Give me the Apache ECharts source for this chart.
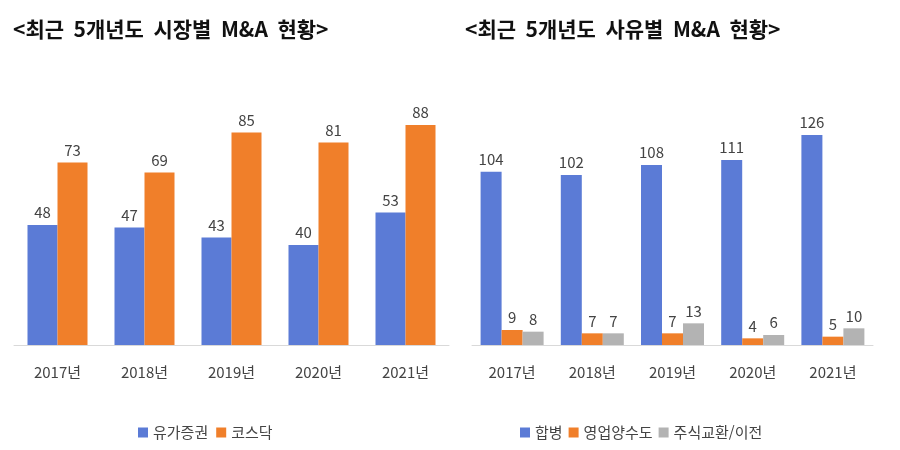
<!DOCTYPE html>
<html lang="ko">
<head>
<meta charset="UTF-8">
<script src="https://cdn.jsdelivr.net/npm/echarts@6/dist/echarts.min.js"></script>
</head>
<body style="margin:0;background:#fff">
<div id="dv" style="width:900px;height:450px;"></div>
<script>
var years = ['2017년', '2018년', '2019년', '2020년', '2021년'];
var kospi = [48, 47, 43, 40, 53];
var kosdaq = [73, 69, 85, 81, 88];
var merger = [104, 102, 108, 111, 126];
var transfer = [9, 7, 7, 4, 5];
var exchange = [8, 7, 13, 6, 10];

var font = "'Noto Sans CJK KR', sans-serif";
var blue = '#5b7bd6', orange = '#f07f2a', gray = '#b3b3b3';
var lbl = { show: true, position: 'top', color: '#444', fontSize: 15, fontFamily: font };

function xa(idx) {
    return {
        type: 'category', gridIndex: idx, data: years,
        axisLine: { lineStyle: { color: '#d9d9d9' } }, axisTick: { show: false },
        axisLabel: { color: '#444', fontSize: 15, fontFamily: font, margin: 20 }
    };
}
function ya(idx, max) {
    return { type: 'value', gridIndex: idx, min: 0, max: max, show: false, splitLine: { show: false } };
}
function bar(name, data, color, idx, w, gap) {
    return { name: name, type: 'bar', xAxisIndex: idx, yAxisIndex: idx, data: data, barWidth: w,
        barGap: gap, itemStyle: { color: color }, label: lbl };
}

var myChart = echarts.init(document.getElementById('dv'));
myChart.setOption({
    backgroundColor: '#fff',
    title: [
        { text: '<최근  5개년도  시장별  M&A  현황>', left: 8, top: 14,
          textStyle: { fontSize: 21, fontWeight: 'bold', color: '#111', fontFamily: font } },
        { text: '<최근  5개년도  사유별  M&A  현황>', left: 460, top: 14,
          textStyle: { fontSize: 21, fontWeight: 'bold', color: '#111', fontFamily: font } }
    ],
    legend: [
        { data: ['유가증권', '코스닥'], left: 133, top: 420, itemWidth: 10, itemHeight: 10, icon: 'rect',
          textStyle: { fontSize: 15, color: '#444', fontFamily: font } },
        { data: ['합병', '영업양수도', '주식교환/이전'], left: 515, top: 420, itemWidth: 10, itemHeight: 10, icon: 'rect',
          itemGap: 6, textStyle: { fontSize: 15, color: '#444', fontFamily: font } }
    ],
    grid: [
        { left: 14, width: 435, top: 95, bottom: 105 },
        { left: 472, width: 401, top: 95, bottom: 105 }
    ],
    xAxis: [xa(0), xa(1)],
    yAxis: [ya(0, 100), ya(1, 150)],
    series: [
        bar('유가증권', kospi, blue, 0, 30, '0%'),
        bar('코스닥', kosdaq, orange, 0, 30, '0%'),
        bar('합병', merger, blue, 1, 21, '0%'),
        bar('영업양수도', transfer, orange, 1, 21, '0%'),
        bar('주식교환/이전', exchange, gray, 1, 21, '0%')
    ]
});
</script>
</body>
</html>
